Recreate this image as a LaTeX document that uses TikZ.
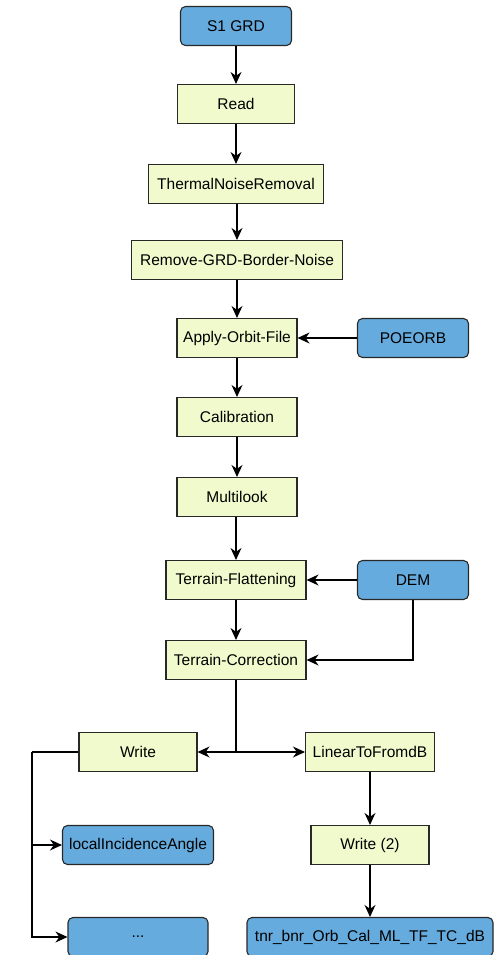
\documentclass[tikz,border=0pt]{standalone}
\usepackage{fontspec}
\setmainfont{Liberation Sans}
\usetikzlibrary{arrows.meta}
\definecolor{opfill}{RGB}{240,250,205}
\definecolor{iofill}{RGB}{102,171,221}
\definecolor{edge}{RGB}{40,40,40}
\tikzset{
  box/.style={draw=edge, line width=1.1pt, minimum height=39pt, inner sep=0pt, font=\fontsize{15.5}{17}\selectfont, anchor=center},
  opbox/.style={box, fill=opfill},
  iobox/.style={box, fill=iofill, rounded corners=5pt},
  conn/.style={line width=1.1pt, -{Stealth[length=12pt,width=11pt]}},
  plain/.style={line width=1.1pt}
}
\begin{document}
\begin{tikzpicture}[x=1pt,y=-1pt]
\useasboundingbox (0,0) rectangle (497,955);
\clip (0,0) rectangle (497,955);
\node[iobox, minimum width=111pt] (s1) at (236,26) {S1 GRD};
\node[opbox, minimum width=117pt] (read) at (236,104) {Read};
\node[opbox, minimum width=175pt] (tnr) at (236,184) {ThermalNoiseRemoval};
\node[opbox, minimum width=211pt] (bnr) at (237,260) {Remove-GRD-Border-Noise};
\node[opbox, minimum width=120pt] (orb) at (237,338) {Apply-Orbit-File};
\node[iobox, minimum width=111pt] (poe) at (413,338) {POEORB};
\node[opbox, minimum width=120pt] (cal) at (237,417) {Calibration};
\node[opbox, minimum width=120pt] (ml) at (237,497) {Multilook};
\node[opbox, minimum width=140pt] (tf) at (236,580) {Terrain-Flattening};
\node[iobox, minimum width=111pt] (dem) at (413,580) {DEM};
\node[opbox, minimum width=140pt] (tc) at (236,660) {Terrain-Correction};
\node[opbox, minimum width=118pt] (wr) at (138,752) {Write};
\node[opbox, minimum width=129pt] (lin) at (370,752) {LinearToFromdB};
\node[iobox, minimum width=151pt] (lia) at (138,845) {localIncidenceAngle};
\node[opbox, minimum width=118pt] (wr2) at (370,845) {Write (2)};
\node[iobox, minimum width=140pt] (dots) at (138,937) {...};
\node[iobox, minimum width=246pt] (out) at (370,937) {tnr\_bnr\_Orb\_Cal\_ML\_TF\_TC\_dB};
\coordinate (split) at (236,752);
\coordinate (lx) at (32,752);
\draw[conn] (s1) -- (read);
\draw[conn] (read) -- (tnr);
\draw[conn] (tnr.south -| bnr.north) -- (bnr);
\draw[conn] (bnr) -- (orb);
\draw[conn] (poe) -- (orb);
\draw[conn] (orb) -- (cal);
\draw[conn] (cal) -- (ml);
\draw[conn] (ml.south -| tf.north) -- (tf);
\draw[conn] (dem) -- (tf);
\draw[conn] (tf) -- (tc);
\draw[conn] (dem.south) |- (tc.east);
\draw[plain] (tc.south) -- (split);
\draw[conn] (split) -- (wr.east);
\draw[conn] (split) -- (lin.west);
\draw[conn] (lin) -- (wr2);
\draw[conn] (wr2) -- (out);
\draw[plain] (wr.west) -- (lx);
\draw[conn] (lx) |- (lia.west);
\draw[conn] (lx) |- (dots.west);
\end{tikzpicture}
\end{document}
